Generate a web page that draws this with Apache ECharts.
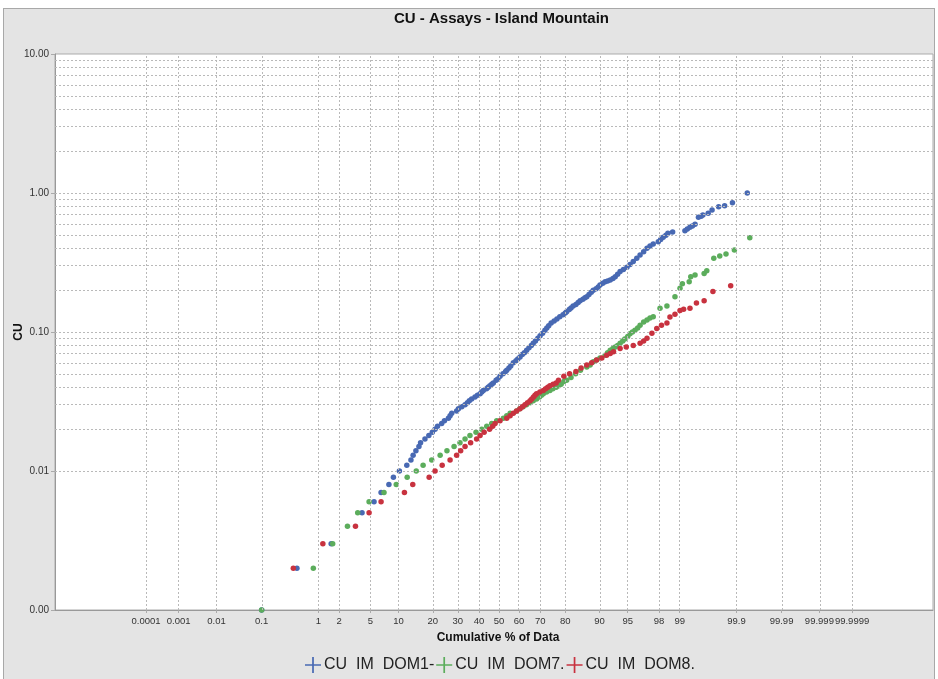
<!DOCTYPE html>
<html>
<head>
<meta charset="utf-8">
<script src="https://cdn.jsdelivr.net/npm/echarts@6/dist/echarts.min.js"></script>
<style>
html,body{margin:0;padding:0;background:#fff;}
#bg{position:absolute;left:3px;top:8px;width:932px;height:675px;background:#e4e4e4;border:1px solid #a8a8a8;box-sizing:border-box;}
#chart{position:absolute;left:0;top:0;width:938px;height:679px;}
</style>
</head>
<body>
<div id="bg"></div>
<div id="chart"></div>
<script>
// ---- Data (cumulative % of data, CU value) ----
const seriesNames = ['CU  IM  DOM1-', 'CU  IM  DOM7.', 'CU  IM  DOM8.'];

const dom1 = [
[0.1,0.001],[0.45,0.002],[1.55,0.003],[3.98,0.005],[5.51,0.006],[6.6,0.007],[8.0,0.008],[8.9,0.009],[10.2,0.010],
[12.0,0.011],[13.1,0.012],[13.7,0.013],[14.5,0.014],[15.4,0.015],[15.9,0.016],[17.3,0.017],[18.6,0.018],[19.8,0.019],[20.8,0.020],
[21.7,0.021],[23.3,0.022],[24.4,0.023],[26.0,0.024],[26.7,0.025],[27.4,0.026],[29.5,0.027],[30.3,0.028],[31.8,0.029],[33.3,0.030],
[34.4,0.031],[35.3,0.032],[36.4,0.033],[38.0,0.034],[39.2,0.035],[40.5,0.036],[41.3,0.037],[42.1,0.038],[43.7,0.039],[44.5,0.040],
[45.4,0.041],[46.3,0.042],[47.1,0.043],[48.5,0.045],[49.4,0.046],[50.5,0.048],[52.0,0.050],[53.3,0.052],[53.9,0.053],[55.0,0.055],
[55.9,0.057],[57.2,0.060],[58.5,0.062],[59.4,0.064],[60.5,0.066],[61.6,0.069],[62.6,0.071],[63.7,0.074],[64.8,0.077],[65.9,0.080],
[66.8,0.083],[67.8,0.086],[68.9,0.090],[69.9,0.094],[71.0,0.098],[72.0,0.103],[72.8,0.107],[73.6,0.111],[74.6,0.116],[75.8,0.120],
[76.9,0.124],[78.0,0.129],[79.2,0.133],[80.0,0.137],[80.5,0.140],[81.4,0.145],[82.0,0.149],[82.7,0.154],[83.6,0.158],[84.3,0.163],
[84.9,0.168],[85.7,0.172],[86.3,0.176],[86.8,0.179],[87.4,0.186],[88.0,0.193],[88.5,0.200],[89.2,0.205],[89.7,0.211],[90.1,0.218],
[90.7,0.224],[91.2,0.230],[91.7,0.233],[92.2,0.237],[92.7,0.243],[93.1,0.250],[93.5,0.260],[93.9,0.272],[94.4,0.282],[94.9,0.292],
[95.3,0.306],[95.7,0.321],[96.1,0.339],[96.45,0.358],[96.8,0.378],[97.1,0.400],[97.35,0.415],[97.6,0.430],[97.95,0.446],[98.1,0.462],
[98.25,0.480],[98.4,0.497],[98.5,0.513],[98.72,0.524],
[99.17,0.535],[99.24,0.55],[99.31,0.567],[99.37,0.58],[99.43,0.596],[99.50,0.669],[99.55,0.68],[99.58,0.695],[99.66,0.714],
[99.71,0.754],[99.78,0.797],[99.83,0.811],[99.88,0.851],[99.94,1.0]
];

const dom7 = [
[0.1,0.001],[0.835,0.002],[1.63,0.003],[2.6,0.004],[3.52,0.005],[4.83,0.006],[7.1,0.007],[9.5,0.008],[12.1,0.009],[14.6,0.010],
[16.7,0.011],[19.6,0.012],[22.7,0.013],[25.4,0.014],[28.4,0.015],[31.0,0.016],[33.3,0.017],[35.6,0.018],[38.5,0.019],[41.3,0.020],
[43.8,0.021],[46.3,0.022],[48.8,0.023],[52.2,0.024],[53.9,0.025],[55.6,0.026],[58.8,0.027],[60.4,0.028],[62.0,0.029],[63.6,0.030],
[65.3,0.031],[66.8,0.032],[68.3,0.033],[69.6,0.034],[70.5,0.035],[71.3,0.036],[72.7,0.037],[74.1,0.038],[75.3,0.039],[76.6,0.040],
[77.6,0.041],[78.5,0.042],[79.5,0.044],[80.5,0.045],[82.0,0.047],[83.5,0.050],[85.0,0.053],[86.8,0.056],[87.7,0.058],[88.5,0.061],
[89.3,0.063],[90.1,0.065],[91.2,0.068],[91.7,0.071],[92.2,0.074],[92.7,0.076],[93.1,0.078],[93.5,0.080],[93.9,0.083],[94.3,0.086],
[94.6,0.089],[95.0,0.093],[95.3,0.097],[95.6,0.100],[95.9,0.103],[96.2,0.107],[96.45,0.112],[96.8,0.118],[97.1,0.122],[97.35,0.126],
[97.6,0.129],[98.06,0.148],[98.45,0.154],[98.82,0.179],[99.01,0.206],[99.09,0.222],[99.29,0.230],[99.33,0.250],[99.43,0.257],
[99.60,0.264],[99.64,0.276],[99.73,0.339],[99.79,0.352],[99.84,0.364],[99.89,0.389],[99.947,0.476]
];

const dom8 = [
[0.39,0.002],[1.17,0.003],[3.3,0.004],[4.83,0.005],[6.6,0.006],[11.4,0.007],[13.6,0.008],[18.7,0.009],[20.8,0.010],
[23.5,0.011],[26.7,0.012],[29.5,0.013],[31.3,0.014],[33.3,0.015],[35.9,0.016],[38.8,0.017],[40.5,0.018],[42.5,0.019],[45.2,0.020],
[46.8,0.021],[48.0,0.022],[50.5,0.023],[53.9,0.024],[55.6,0.025],[57.2,0.026],[58.8,0.027],[60.5,0.028],[61.7,0.029],[62.9,0.030],
[64.1,0.031],[65.3,0.032],[66.1,0.033],[66.9,0.034],[67.6,0.035],[68.3,0.036],[69.8,0.037],[71.3,0.038],[72.3,0.039],[73.2,0.040],
[74.1,0.041],[75.4,0.042],[76.6,0.043],[77.5,0.045],[79.5,0.048],[81.5,0.050],[83.6,0.052],[85.2,0.055],[86.8,0.058],[88.1,0.060],
[89.3,0.063],[90.5,0.065],[91.5,0.068],[92.2,0.070],[92.8,0.072],[93.9,0.076],[94.8,0.078],[95.7,0.080],[96.45,0.083],[96.8,0.086],
[97.1,0.090],[97.5,0.098],[97.85,0.106],[98.15,0.112],[98.45,0.116],[98.6,0.128],[98.82,0.134],[99.01,0.143],[99.13,0.146],
[99.31,0.148],[99.46,0.162],[99.60,0.168],[99.72,0.196],[99.87,0.215]
];

// x tick labels (cumulative %)
const xTickLabels = ['0.0001','0.001','0.01','0.1','1','2','5','10','20','30','40','50','60','70','80','90','95','98','99','99.9','99.99','99.999','99.9999'];
// y major ticks and minor grid multipliers
const yMajor = [0.001, 0.01, 0.1, 1, 10];
const yMinorMult = [2,3,4,5,6,7,8,9];

// ---- probability scale ----
function normInv(p){
  const a=[-3.969683028665376e+01,2.209460984245205e+02,-2.759285104469687e+02,1.383577518672690e+02,-3.066479806614716e+01,2.506628277459239e+00];
  const b=[-5.447609879822406e+01,1.615858368580409e+02,-1.556989798598866e+02,6.680131188771972e+01,-1.328068155288572e+01];
  const c=[-7.784894002430293e-03,-3.223964580411365e-01,-2.400758277161838e+00,-2.549732539343734e+00,4.374664141464968e+00,2.938163982698783e+00];
  const d=[7.784695709041462e-03,3.224671290700398e-01,2.445134137142996e+00,3.754408661907416e+00];
  const plow=0.02425, phigh=1-plow;
  let q,r;
  if(p<plow){q=Math.sqrt(-2*Math.log(p));return (((((c[0]*q+c[1])*q+c[2])*q+c[3])*q+c[4])*q+c[5])/((((d[0]*q+d[1])*q+d[2])*q+d[3])*q+1);}
  if(p<=phigh){q=p-0.5;r=q*q;return (((((a[0]*r+a[1])*r+a[2])*r+a[3])*r+a[4])*r+a[5])*q/(((((b[0]*r+b[1])*r+b[2])*r+b[3])*r+b[4])*r+1);}
  q=Math.sqrt(-2*Math.log(1-p));
  return -(((((c[0]*q+c[1])*q+c[2])*q+c[3])*q+c[4])*q+c[5])/((((d[0]*q+d[1])*q+d[2])*q+d[3])*q+1);
}
function probPos(pct){
  const z = normInv(pct/100);
  return z/(1+0.0027*z*z);
}

const xTickVals = xTickLabels.map(s => probPos(parseFloat(s)));
function xLabel(v){
  let best=0, bd=Infinity;
  xTickVals.forEach((t,i)=>{const dd=Math.abs(t-v); if(dd<bd){bd=dd;best=i;}});
  return bd<1e-6 ? xTickLabels[best] : '';
}

const gridLines = [];
xTickVals.forEach(v => gridLines.push({xAxis: v}));
yMajor.slice(1, -1).forEach(v => gridLines.push({yAxis: v}));
yMajor.slice(0, -1).forEach(dec => yMinorMult.forEach(m => gridLines.push({yAxis: +(dec*m).toPrecision(3)})));

const colors = ['#4869b3', '#5cad5c', '#c8323f'];
const FONT = 'Liberation Sans, Arial, sans-serif';
const plusIcon = 'path://M6.25,0 L7.75,0 L7.75,6.25 L14,6.25 L14,7.75 L7.75,7.75 L7.75,14 L6.25,14 L6.25,7.75 L0,7.75 L0,6.25 L6.25,6.25 Z';

const chart = echarts.init(document.getElementById('chart'), null, {renderer: 'canvas'});
const toXY = arr => arr.map(([p, v]) => [probPos(p), v]);

chart.setOption({
  backgroundColor: 'transparent',
  animation: false,
  title: {
    text: 'CU - Assays - Island Mountain',
    left: 389, top: 6,
    textStyle: {fontFamily: FONT, fontSize: 15, fontWeight: 'bold', color: '#111'}
  },
  legend: {
    data: seriesNames,
    top: 652, left: 300,
    itemWidth: 16, itemHeight: 16, itemGap: 2,
    icon: plusIcon,
    textStyle: {fontFamily: FONT, fontSize: 16, color: '#222', padding: [0,0,0,-2]}
  },
  grid: {left: 55, right: 5, top: 54, bottom: 69, show: true, backgroundColor: '#fff', borderColor: '#ababab', borderWidth: 1, outerBoundsMode: 'none', containLabel: false},
  xAxis: {
    type: 'value',
    min: -5.635, max: 5.507,
    name: 'Cumulative % of Data',
    nameLocation: 'middle', nameGap: 22, nameMoveOverlap: false,
    nameTextStyle: {fontFamily: FONT, fontSize: 12, fontWeight: 'bold', color: '#111', padding: [0,0,0,8]},
    axisLine: {show: true, onZero: false, lineStyle: {color: '#999'}},
    axisTick: {show: true, length: 3, lineStyle: {color: '#aaa'}, customValues: xTickVals},
    axisLabel: {customValues: xTickVals, formatter: xLabel, interval: 0, fontFamily: FONT, fontSize: 9.5, color: '#333', margin: 6, hideOverlap: false, showMinLabel: true, showMaxLabel: true},
    splitLine: {show: false}
  },
  yAxis: {
    type: 'log', logBase: 10, min: 0.001, max: 10,
    name: 'CU',
    nameLocation: 'middle', nameGap: 30, nameRotate: 90, nameMoveOverlap: false,
    nameTextStyle: {fontFamily: FONT, fontSize: 12, fontWeight: 'bold', color: '#111'},
    axisLine: {show: true, onZero: false, lineStyle: {color: '#999'}},
    axisTick: {show: true, length: 4, lineStyle: {color: '#aaa'}},
    axisLabel: {formatter: v => Number(v).toFixed(2), fontFamily: FONT, fontSize: 10, color: '#333', margin: 6},
    splitLine: {show: false}
  },
  series: [
    {
      name: '__grid', type: 'scatter', data: [], z: 1, silent: true,
      markLine: {
        silent: true, symbol: 'none', animation: false,
        label: {show: false},
        lineStyle: {type: [2, 2], color: '#b9b9b9', width: 1},
        data: gridLines
      }
    },
    {name: seriesNames[0], type: 'scatter', data: toXY(dom1), symbolSize: 5.5, z: 3, itemStyle: {color: colors[0], opacity: 1}},
    {name: seriesNames[1], type: 'scatter', data: toXY(dom7), symbolSize: 5.5, z: 4, itemStyle: {color: colors[1], opacity: 1}},
    {name: seriesNames[2], type: 'scatter', data: toXY(dom8), symbolSize: 5.5, z: 5, itemStyle: {color: colors[2], opacity: 1}}
  ]
});
</script>
</body>
</html>
